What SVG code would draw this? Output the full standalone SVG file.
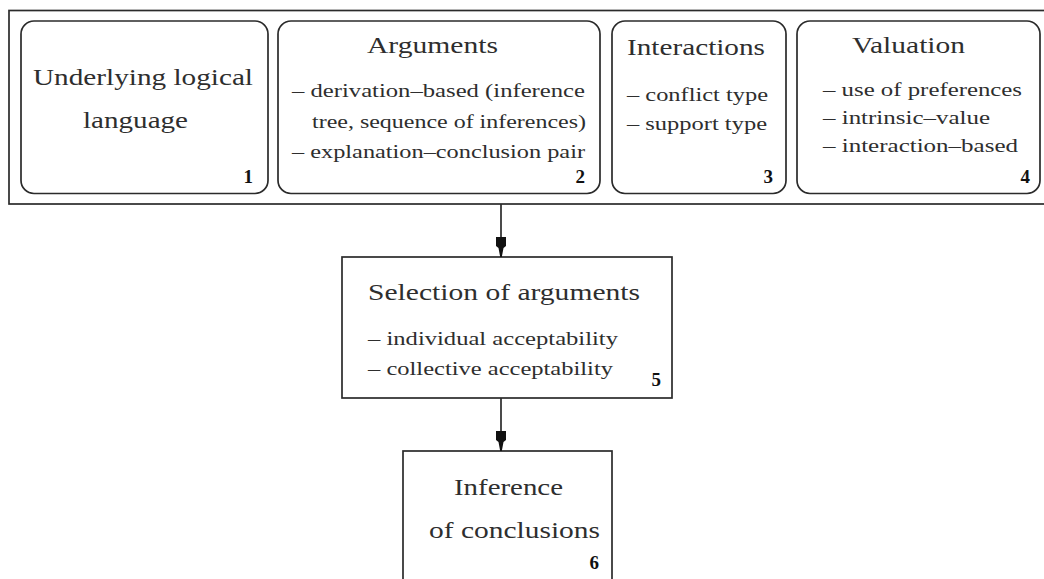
<svg xmlns="http://www.w3.org/2000/svg" width="1044" height="579" viewBox="0 0 1044 579">
<defs>
<style>
.bx{fill:none;stroke:#2b2b2b;stroke-width:1.7}
.t{font-family:"Liberation Serif","Times New Roman",serif;fill:#2e2e2e}
.h{font-size:23px}
.i{font-size:19px}
.n{font-size:19px;font-weight:bold;fill:#111}
.ln{stroke:#2b2b2b;stroke-width:1.7;fill:none}
</style>
<marker id="ah" viewBox="0 0 20 10" refX="20" refY="5" markerWidth="20" markerHeight="10" markerUnits="userSpaceOnUse" orient="auto">
<path d="M0,0 L9,0 L11,2.5 L20,4.2 L20,5.8 L11,7.5 L9,10 L0,10 Z" fill="#111"/>
</marker>
</defs>
<rect width="1044" height="579" fill="#fff"/>
<g id="container">
<rect class="bx" x="9" y="10.5" width="1050" height="193.5"/>
</g>
<g id="node1">
<rect class="bx" x="21" y="21" width="247" height="172.5" rx="13"/>
<text class="t h" x="33" y="85" textLength="220" lengthAdjust="spacingAndGlyphs">Underlying logical</text>
<text class="t h" x="83" y="128" textLength="105" lengthAdjust="spacingAndGlyphs">language</text>
<text class="t n" x="253" y="183" text-anchor="end">1</text>
</g>
<g id="node2">
<rect class="bx" x="278" y="21" width="322" height="172.5" rx="13"/>
<text class="t h" x="367" y="53" textLength="131" lengthAdjust="spacingAndGlyphs">Arguments</text>
<text class="t i" x="292" y="97" textLength="293" lengthAdjust="spacingAndGlyphs">– derivation–based (inference</text>
<text class="t i" x="312" y="128" textLength="274" lengthAdjust="spacingAndGlyphs">tree, sequence of inferences)</text>
<text class="t i" x="292" y="158" textLength="293" lengthAdjust="spacingAndGlyphs">– explanation–conclusion pair</text>
<text class="t n" x="585" y="183" text-anchor="end">2</text>
</g>
<g id="node3">
<rect class="bx" x="612" y="21" width="174" height="172.5" rx="13"/>
<text class="t h" x="627" y="55" textLength="138" lengthAdjust="spacingAndGlyphs">Interactions</text>
<text class="t i" x="627" y="101" textLength="141" lengthAdjust="spacingAndGlyphs">– conflict type</text>
<text class="t i" x="627" y="130" textLength="140" lengthAdjust="spacingAndGlyphs">– support type</text>
<text class="t n" x="773" y="183" text-anchor="end">3</text>
</g>
<g id="node4">
<rect class="bx" x="797" y="21" width="243" height="172.5" rx="13"/>
<text class="t h" x="852" y="53" textLength="113" lengthAdjust="spacingAndGlyphs">Valuation</text>
<text class="t i" x="823" y="96" textLength="199" lengthAdjust="spacingAndGlyphs">– use of preferences</text>
<text class="t i" x="823" y="124" textLength="167" lengthAdjust="spacingAndGlyphs">– intrinsic–value</text>
<text class="t i" x="823" y="152" textLength="195" lengthAdjust="spacingAndGlyphs">– interaction–based</text>
<text class="t n" x="1030" y="183" text-anchor="end">4</text>
</g>
<g id="node5">
<rect class="bx" x="342" y="257" width="330" height="141"/>
<text class="t h" x="368" y="300" textLength="272" lengthAdjust="spacingAndGlyphs">Selection of arguments</text>
<text class="t i" x="368" y="345" textLength="250" lengthAdjust="spacingAndGlyphs">– individual acceptability</text>
<text class="t i" x="368" y="375" textLength="245" lengthAdjust="spacingAndGlyphs">– collective acceptability</text>
<text class="t n" x="661" y="386" text-anchor="end">5</text>
</g>
<g id="node6">
<rect class="bx" x="403" y="451" width="209" height="140"/>
<text class="t h" x="454" y="495" textLength="109" lengthAdjust="spacingAndGlyphs">Inference</text>
<text class="t h" x="429" y="538" textLength="171" lengthAdjust="spacingAndGlyphs">of conclusions</text>
<text class="t n" x="599" y="569" text-anchor="end">6</text>
</g>
<g id="connectors">
<line class="ln" x1="501" y1="204" x2="501" y2="257" marker-end="url(#ah)"/>
<line class="ln" x1="501" y1="398" x2="501" y2="451" marker-end="url(#ah)"/>
</g>
</svg>
